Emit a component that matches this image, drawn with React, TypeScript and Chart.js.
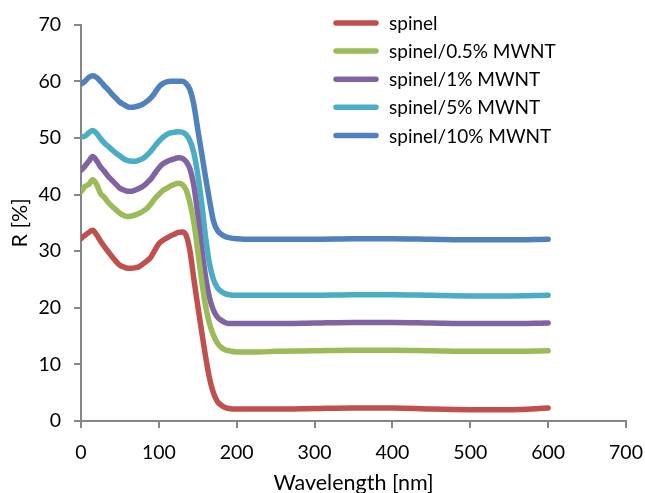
import React, { useEffect, useRef } from "react";
import { Chart, registerables } from "chart.js";

Chart.register(...registerables);

// ---- data ----
const wavelengths = [
  0, 5, 10, 15, 20, 25, 30, 35, 40, 45, 50, 55, 60, 65, 70, 75, 80, 85, 90, 95,
  100, 105, 110, 115, 120, 125, 130, 135, 140, 145, 150, 155, 160, 165, 170, 175,
  180, 185, 190, 200, 225, 250, 300, 350, 400, 450, 500, 550, 600,
];

const spinel = [
  32.2, 32.8, 33.3, 33.7, 32.9, 31.8, 30.8, 29.9, 29.0, 28.2, 27.5, 27.2, 27.0, 27.0, 27.1, 27.3, 27.8, 28.3, 29.0, 30.2,
  31.3, 31.9, 32.3, 32.7, 33.0, 33.3, 33.4, 32.8, 30.0, 25.0, 20.3, 15.8, 11.4, 7.6, 5.0, 3.5,
  2.8, 2.4, 2.2, 2.1, 2.1, 2.1, 2.2, 2.3, 2.3, 2.1, 2.0, 2.0, 2.3,
];

const spinel05 = [
  40.5, 41.4, 41.8, 42.6, 41.8, 40.2, 39.5, 38.6, 37.9, 37.3, 36.7, 36.3, 36.1, 36.2, 36.4, 36.7, 37.1, 37.6, 38.4, 39.3,
  40.0, 40.7, 41.1, 41.5, 41.8, 42.0, 41.8, 40.8, 38.5, 35.0, 30.0, 24.8, 20.3, 17.2, 15.2, 13.8,
  13.0, 12.6, 12.4, 12.2, 12.2, 12.3, 12.4, 12.5, 12.5, 12.4, 12.3, 12.3, 12.4,
];

const spinel1 = [
  44.3, 45.0, 45.9, 46.7, 46.0, 44.9, 44.1, 43.2, 42.5, 41.8, 41.1, 40.8, 40.6, 40.6, 40.8, 41.1, 41.5, 42.1, 42.8, 43.8,
  44.7, 45.4, 45.8, 46.1, 46.3, 46.5, 46.4, 45.8, 44.5, 41.5, 36.5, 30.5, 25.5, 21.8, 19.6, 18.4,
  17.8, 17.4, 17.2, 17.2, 17.2, 17.2, 17.3, 17.4, 17.4, 17.3, 17.2, 17.2, 17.3,
];

const spinel5 = [
  50.2, 50.3, 50.9, 51.3, 50.8, 49.9, 49.1, 48.5, 47.9, 47.3, 46.8, 46.3, 46.0, 45.9, 45.9, 46.1, 46.4, 47.0, 47.7, 48.6,
  49.4, 50.1, 50.6, 50.9, 51.0, 51.1, 51.0, 50.6, 49.5, 47.3, 43.5, 38.5, 32.5, 27.8, 25.0, 23.6,
  22.9, 22.5, 22.3, 22.2, 22.2, 22.2, 22.2, 22.3, 22.3, 22.2, 22.1, 22.1, 22.2,
];

const spinel10 = [
  59.5, 60.0, 60.7, 61.0, 60.7, 60.0, 59.2, 58.5, 57.7, 57.0, 56.3, 55.9, 55.5, 55.4, 55.5, 55.7, 56.0, 56.5, 57.1, 58.0,
  59.0, 59.6, 59.9, 60.0, 60.0, 60.0, 60.0, 59.6, 58.5, 55.8, 51.5, 47.3, 43.0, 39.0, 35.4, 33.7,
  33.0, 32.6, 32.4, 32.2, 32.1, 32.1, 32.1, 32.2, 32.2, 32.1, 32.0, 32.0, 32.1,
];

const seriesLabels = [
  "spinel",
  "spinel/0.5% MWNT",
  "spinel/1% MWNT",
  "spinel/5% MWNT",
  "spinel/10% MWNT",
];
const seriesValues = [spinel, spinel05, spinel1, spinel5, spinel10];
const seriesColors = ["#C0504D", "#9BBB59", "#8064A2", "#4BACC6", "#4F81BD"];

const xTitle = "Wavelength [nm]";
const yTitle = "R [%]";

const FONT = "Lato, 'Open Sans', sans-serif";
const AXIS_GRAY = "#868686";

const legendPlugin = {
  id: "insideLegend",
  afterDraw(chart: any) {
    const ctx = chart.ctx as CanvasRenderingContext2D;
    ctx.save();
    ctx.font = `19px ${FONT}`;
    ctx.textAlign = "left";
    ctx.textBaseline = "middle";
    chart.data.datasets.forEach((ds: any, i: number) => {
      const y = 23 + i * 28.1;
      ctx.strokeStyle = ds.borderColor;
      ctx.lineWidth = 5.5;
      ctx.lineCap = "round";
      ctx.beginPath();
      ctx.moveTo(336, y);
      ctx.lineTo(376, y);
      ctx.stroke();
      ctx.fillStyle = "#000";
      ctx.fillText(ds.label, 389, y + 1);
    });
    ctx.restore();
  },
};

export default function App() {
  const ref = useRef<HTMLCanvasElement | null>(null);

  useEffect(() => {
    if (!ref.current) return;
    const chart = new Chart(ref.current, {
      type: "line",
      data: {
        datasets: seriesLabels.map((label, i) => ({
          label,
          data: wavelengths.map((x, j) => ({ x, y: seriesValues[i][j] })),
          borderColor: seriesColors[i],
          backgroundColor: seriesColors[i],
          borderWidth: 5.5,
          pointRadius: 0,
          cubicInterpolationMode: "monotone" as const,
          borderCapStyle: "round" as const,
          borderJoinStyle: "round" as const,
          fill: false,
        })),
      },
      options: {
        animation: false,
        responsive: false,
        devicePixelRatio: 1,
        layout: { padding: { left: 0, right: 19, top: 22, bottom: 0 } },
        plugins: {
          legend: { display: false },
          tooltip: { enabled: false },
        },
        scales: {
          x: {
            type: "linear",
            min: 0,
            max: 700,
            ticks: {
              stepSize: 100,
              color: "#000",
              font: { family: FONT, size: 19.5 },
              padding: 13,
              maxRotation: 0,
            },
            grid: {
              drawOnChartArea: false,
              drawTicks: true,
              tickLength: 7,
              color: AXIS_GRAY,
              lineWidth: 2,
            },
            border: { color: AXIS_GRAY, width: 2 },
            title: {
              display: true,
              text: xTitle,
              color: "#000",
              font: { family: FONT, size: 21.5, lineHeight: 1 },
              padding: { top: 0, bottom: -1 },
            },
            afterFit: (scale: any) => {
              scale.height = 72;
              scale.paddingRight = 0;
              scale.paddingLeft = 0;
            },
          },
          y: {
            type: "linear",
            min: 0,
            max: 70,
            ticks: {
              stepSize: 10,
              color: "#000",
              font: { family: FONT, size: 19.5 },
              padding: 13,
            },
            grid: {
              drawOnChartArea: false,
              drawTicks: true,
              tickLength: 7,
              color: AXIS_GRAY,
              lineWidth: 2,
            },
            border: { color: AXIS_GRAY, width: 2 },
            title: {
              display: true,
              text: yTitle,
              color: "#000",
              font: { family: FONT, size: 21.5, lineHeight: 1 },
              padding: { top: 9.5, bottom: 0 },
            },
            afterFit: (scale: any) => {
              scale.width = 81;
            },
          },
        },
      },
      plugins: [legendPlugin],
    });
    return () => chart.destroy();
  }, []);

  return (
    <div style={{ position: "fixed", left: 0, top: 0, width: 645, height: 493, background: "#fff" }}>
      <canvas ref={ref} width={645} height={493} style={{ display: "block" }} />
    </div>
  );
}
